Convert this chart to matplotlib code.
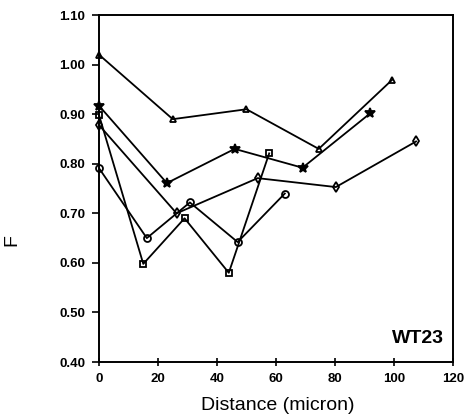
import matplotlib
matplotlib.use("Agg")
import matplotlib.pyplot as plt

# F versus distance along the fibre, five tracks for sample WT23
tri_x = [0, 25, 50, 74.5, 99.5]
tri_f = [1.02, 0.89, 0.91, 0.83, 0.97]

star_x = [0, 23, 46, 69, 92]
star_f = [0.917, 0.761, 0.830, 0.792, 0.902]

sq_x = [0, 15, 29, 44, 57.7]
sq_f = [0.898, 0.598, 0.690, 0.580, 0.821]

circ_x = [0, 16.2, 30.8, 47, 63]
circ_f = [0.791, 0.650, 0.722, 0.642, 0.740]

diam_x = [0, 26.3, 53.8, 80.3, 107.5]
diam_f = [0.878, 0.700, 0.771, 0.753, 0.845]

yticks = [0.40, 0.50, 0.60, 0.70, 0.80, 0.90, 1.00, 1.10]
xticks = [0, 20, 40, 60, 80, 100, 120]

plt.rcParams['font.family'] = ['Liberation Sans', 'DejaVu Sans']

fig = plt.figure(figsize=(4.65, 4.19), dpi=100)
ax = fig.add_axes([0.213, 0.136, 0.761, 0.828])

style = dict(color='black', lw=1.3, ms=5, mew=1.3, mfc='none', mec='black', clip_on=False)
ax.plot(tri_x, tri_f, marker='^', **style)
ax.plot(star_x, star_f, marker='*', **{**style, 'mfc': 'black', 'ms': 7.5})
ax.plot(sq_x, sq_f, marker='s', **{**style, 'ms': 4.5})
ax.plot(circ_x, circ_f, marker='o', **style)
ax.plot(diam_x, diam_f, marker='d', **{**style, 'ms': 5.5})

ax.set_xlim(0, 120)
ax.set_ylim(0.40, 1.10)
ax.set_xticks(xticks)
ax.set_yticks(yticks)
ax.set_yticklabels([f"{v:.2f}" for v in yticks])
for lbl in ax.get_xticklabels() + ax.get_yticklabels():
    lbl.set_fontweight('bold')
    lbl.set_fontsize(9.5)
ax.tick_params(axis='x', direction='inout', length=6, width=1.2, pad=5)
ax.tick_params(axis='y', direction='out', length=5, width=1.2, pad=5)
for sp in ax.spines.values():
    sp.set_linewidth(1.4)

fig.text(278 / 465, 1 - 405 / 419, 'Distance (micron)', ha='center', va='center', fontsize=14)
fig.text(12 / 465, 1 - 240 / 419, 'F', ha='center', va='center', fontsize=14, rotation=90)
ax.text(0.976, 0.055, 'WT23', transform=ax.transAxes, ha='right', va='baseline',
        fontsize=14, fontweight='bold')

fig.savefig('out.png', dpi=100)
